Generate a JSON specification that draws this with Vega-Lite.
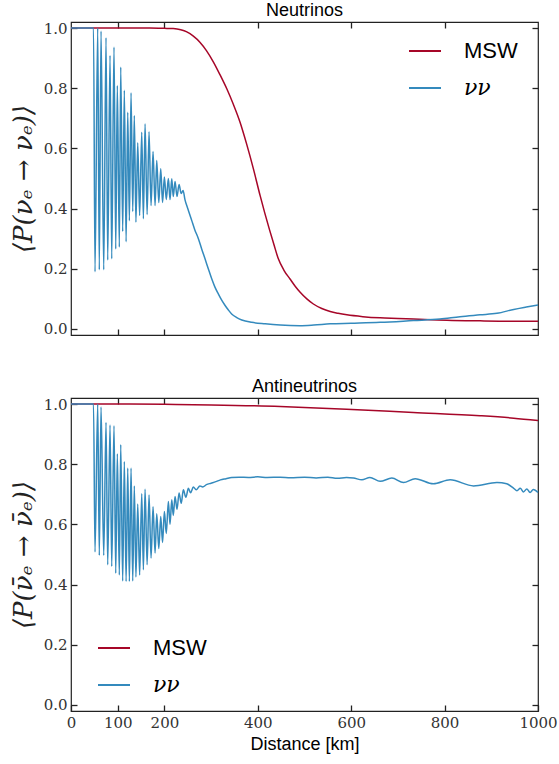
{
"$schema":"https://vega.github.io/schema/vega-lite/v6.json",
"padding":{"left":9,"top":1,"right":10,"bottom":5},
"spacing":39,
"datasets":{
"nu_msw":[{"d":0,"p":1.0,"s":"MSW"},{"d":100,"p":1.0,"s":"MSW"},{"d":169,"p":1.0,"s":"MSW"},{"d":200,"p":0.999,"s":"MSW"},{"d":219,"p":0.998,"s":"MSW"},{"d":235,"p":0.994,"s":"MSW"},{"d":248,"p":0.987,"s":"MSW"},{"d":262,"p":0.973,"s":"MSW"},{"d":276,"p":0.953,"s":"MSW"},{"d":290,"p":0.925,"s":"MSW"},{"d":305,"p":0.887,"s":"MSW"},{"d":319,"p":0.845,"s":"MSW"},{"d":333.6,"p":0.798,"s":"MSW"},{"d":348,"p":0.745,"s":"MSW"},{"d":362,"p":0.687,"s":"MSW"},{"d":376,"p":0.615,"s":"MSW"},{"d":390.6,"p":0.532,"s":"MSW"},{"d":405,"p":0.443,"s":"MSW"},{"d":415,"p":0.385,"s":"MSW"},{"d":425,"p":0.33,"s":"MSW"},{"d":435,"p":0.278,"s":"MSW"},{"d":444,"p":0.233,"s":"MSW"},{"d":456,"p":0.195,"s":"MSW"},{"d":469,"p":0.166,"s":"MSW"},{"d":480,"p":0.142,"s":"MSW"},{"d":490.7,"p":0.122,"s":"MSW"},{"d":505,"p":0.1,"s":"MSW"},{"d":519,"p":0.083,"s":"MSW"},{"d":537,"p":0.068,"s":"MSW"},{"d":555,"p":0.058,"s":"MSW"},{"d":572,"p":0.052,"s":"MSW"},{"d":590.7,"p":0.047,"s":"MSW"},{"d":625,"p":0.041,"s":"MSW"},{"d":662,"p":0.037,"s":"MSW"},{"d":700,"p":0.035,"s":"MSW"},{"d":733.5,"p":0.033,"s":"MSW"},{"d":770,"p":0.031,"s":"MSW"},{"d":805,"p":0.029,"s":"MSW"},{"d":876,"p":0.027,"s":"MSW"},{"d":940,"p":0.026,"s":"MSW"},{"d":1000,"p":0.026,"s":"MSW"}],
"nu_nn":[{"d":0,"p":1.0,"s":"νν"},{"d":46,"p":1.0,"s":"νν"},{"d":48.2,"p":1.0,"s":"νν"},{"d":51.4,"p":0.19,"s":"νν"},{"d":57.2,"p":1.0,"s":"νν"},{"d":60.6,"p":0.197,"s":"νν"},{"d":64.3,"p":0.99,"s":"νν"},{"d":70.1,"p":0.197,"s":"νν"},{"d":75,"p":0.968,"s":"νν"},{"d":78.6,"p":0.229,"s":"νν"},{"d":83.6,"p":0.909,"s":"νν"},{"d":87.2,"p":0.233,"s":"νν"},{"d":92.1,"p":0.937,"s":"νν"},{"d":95.8,"p":0.266,"s":"νν"},{"d":99.2,"p":0.809,"s":"νν"},{"d":103.5,"p":0.272,"s":"νν"},{"d":106.5,"p":0.87,"s":"νν"},{"d":110.7,"p":0.324,"s":"νν"},{"d":114.2,"p":0.793,"s":"νν"},{"d":118,"p":0.29,"s":"νν"},{"d":121.5,"p":0.72,"s":"νν"},{"d":125,"p":0.36,"s":"νν"},{"d":128.6,"p":0.785,"s":"νν"},{"d":132.2,"p":0.39,"s":"νν"},{"d":135.6,"p":0.709,"s":"νν"},{"d":139,"p":0.355,"s":"νν"},{"d":142.9,"p":0.619,"s":"νν"},{"d":147,"p":0.377,"s":"νν"},{"d":151.5,"p":0.654,"s":"νν"},{"d":155,"p":0.366,"s":"νν"},{"d":158.6,"p":0.682,"s":"νν"},{"d":163,"p":0.38,"s":"νν"},{"d":167.1,"p":0.655,"s":"νν"},{"d":171.4,"p":0.41,"s":"νν"},{"d":175.7,"p":0.59,"s":"νν"},{"d":180,"p":0.41,"s":"νν"},{"d":183.6,"p":0.56,"s":"νν"},{"d":188,"p":0.42,"s":"νν"},{"d":192.2,"p":0.532,"s":"νν"},{"d":196,"p":0.42,"s":"νν"},{"d":200,"p":0.505,"s":"νν"},{"d":204,"p":0.43,"s":"νν"},{"d":208.5,"p":0.5,"s":"νν"},{"d":212,"p":0.43,"s":"νν"},{"d":215.8,"p":0.499,"s":"νν"},{"d":219,"p":0.44,"s":"νν"},{"d":222.8,"p":0.49,"s":"νν"},{"d":227,"p":0.44,"s":"νν"},{"d":231.4,"p":0.48,"s":"νν"},{"d":236,"p":0.45,"s":"νν"},{"d":240,"p":0.46,"s":"νν"},{"d":244,"p":0.43,"s":"νν"},{"d":250,"p":0.4,"s":"νν"},{"d":258.6,"p":0.36,"s":"νν"},{"d":265,"p":0.33,"s":"νν"},{"d":272.8,"p":0.3,"s":"νν"},{"d":280,"p":0.265,"s":"νν"},{"d":287,"p":0.233,"s":"νν"},{"d":294,"p":0.2,"s":"νν"},{"d":301.5,"p":0.166,"s":"νν"},{"d":308,"p":0.14,"s":"νν"},{"d":315.7,"p":0.116,"s":"νν"},{"d":323,"p":0.095,"s":"νν"},{"d":330,"p":0.078,"s":"νν"},{"d":337,"p":0.063,"s":"νν"},{"d":344,"p":0.05,"s":"νν"},{"d":355,"p":0.038,"s":"νν"},{"d":365.7,"p":0.03,"s":"νν"},{"d":387,"p":0.022,"s":"νν"},{"d":415.7,"p":0.017,"s":"νν"},{"d":448,"p":0.013,"s":"νν"},{"d":490,"p":0.011,"s":"νν"},{"d":520,"p":0.013,"s":"νν"},{"d":555,"p":0.017,"s":"νν"},{"d":600,"p":0.019,"s":"νν"},{"d":662,"p":0.022,"s":"νν"},{"d":733,"p":0.028,"s":"νν"},{"d":790,"p":0.033,"s":"νν"},{"d":833,"p":0.041,"s":"νν"},{"d":876,"p":0.047,"s":"νν"},{"d":912,"p":0.052,"s":"νν"},{"d":948,"p":0.065,"s":"νν"},{"d":975,"p":0.073,"s":"νν"},{"d":1000,"p":0.08,"s":"νν"}],
"anu_msw":[{"d":0,"p":1.0,"s":"MSW"},{"d":100,"p":1.0,"s":"MSW"},{"d":200,"p":0.999,"s":"MSW"},{"d":300,"p":0.997,"s":"MSW"},{"d":448,"p":0.992,"s":"MSW"},{"d":590,"p":0.983,"s":"MSW"},{"d":733,"p":0.972,"s":"MSW"},{"d":876,"p":0.961,"s":"MSW"},{"d":948,"p":0.953,"s":"MSW"},{"d":1000,"p":0.945,"s":"MSW"}],
"anu_nn":[{"d":0,"p":1.0,"s":"νν"},{"d":46,"p":1.0,"s":"νν"},{"d":48.2,"p":1.0,"s":"νν"},{"d":51.4,"p":0.508,"s":"νν"},{"d":57.2,"p":1.0,"s":"νν"},{"d":60.6,"p":0.497,"s":"νν"},{"d":64.3,"p":0.99,"s":"νν"},{"d":70.1,"p":0.497,"s":"νν"},{"d":75,"p":0.939,"s":"νν"},{"d":78.6,"p":0.466,"s":"νν"},{"d":83.6,"p":0.93,"s":"νν"},{"d":87.2,"p":0.46,"s":"νν"},{"d":92.1,"p":0.928,"s":"νν"},{"d":95.8,"p":0.438,"s":"νν"},{"d":99.2,"p":0.835,"s":"νν"},{"d":103.5,"p":0.432,"s":"νν"},{"d":106.5,"p":0.865,"s":"νν"},{"d":110.7,"p":0.412,"s":"νν"},{"d":114.2,"p":0.809,"s":"νν"},{"d":118,"p":0.41,"s":"νν"},{"d":121.5,"p":0.787,"s":"νν"},{"d":125,"p":0.41,"s":"νν"},{"d":128.6,"p":0.787,"s":"νν"},{"d":132.2,"p":0.412,"s":"νν"},{"d":135.6,"p":0.728,"s":"νν"},{"d":139,"p":0.425,"s":"νν"},{"d":142.9,"p":0.668,"s":"νν"},{"d":147,"p":0.432,"s":"νν"},{"d":151.5,"p":0.702,"s":"νν"},{"d":155,"p":0.449,"s":"νν"},{"d":158.6,"p":0.717,"s":"νν"},{"d":163,"p":0.466,"s":"νν"},{"d":167.1,"p":0.698,"s":"νν"},{"d":171.4,"p":0.488,"s":"νν"},{"d":175.7,"p":0.659,"s":"νν"},{"d":180,"p":0.505,"s":"νν"},{"d":183.6,"p":0.635,"s":"νν"},{"d":188,"p":0.52,"s":"νν"},{"d":192.2,"p":0.626,"s":"νν"},{"d":196,"p":0.54,"s":"νν"},{"d":200,"p":0.643,"s":"νν"},{"d":204,"p":0.57,"s":"νν"},{"d":208.5,"p":0.676,"s":"νν"},{"d":212,"p":0.6,"s":"νν"},{"d":215.8,"p":0.682,"s":"νν"},{"d":219,"p":0.63,"s":"νν"},{"d":222.8,"p":0.693,"s":"νν"},{"d":227,"p":0.65,"s":"νν"},{"d":231.4,"p":0.704,"s":"νν"},{"d":236,"p":0.67,"s":"νν"},{"d":240.6,"p":0.715,"s":"νν"},{"d":246,"p":0.69,"s":"νν"},{"d":251.3,"p":0.72,"s":"νν"},{"d":256,"p":0.705,"s":"νν"},{"d":262,"p":0.724,"s":"νν"},{"d":268,"p":0.715,"s":"νν"},{"d":276,"p":0.728,"s":"νν"},{"d":282,"p":0.724,"s":"νν"},{"d":290,"p":0.732,"s":"νν"},{"d":300,"p":0.737,"s":"νν"},{"d":310,"p":0.742,"s":"νν"},{"d":320,"p":0.748,"s":"νν"},{"d":332,"p":0.752,"s":"νν"},{"d":344,"p":0.756,"s":"νν"},{"d":360,"p":0.757,"s":"νν"},{"d":380,"p":0.756,"s":"νν"},{"d":400,"p":0.758,"s":"νν"},{"d":420,"p":0.756,"s":"νν"},{"d":448,"p":0.757,"s":"νν"},{"d":470,"p":0.755,"s":"νν"},{"d":500,"p":0.757,"s":"νν"},{"d":525,"p":0.754,"s":"νν"},{"d":550,"p":0.757,"s":"νν"},{"d":570,"p":0.753,"s":"νν"},{"d":590,"p":0.756,"s":"νν"},{"d":605,"p":0.754,"s":"νν"},{"d":623,"p":0.748,"s":"νν"},{"d":640,"p":0.756,"s":"νν"},{"d":662,"p":0.743,"s":"νν"},{"d":687,"p":0.754,"s":"νν"},{"d":712,"p":0.739,"s":"νν"},{"d":737,"p":0.752,"s":"νν"},{"d":776,"p":0.735,"s":"νν"},{"d":812,"p":0.748,"s":"νν"},{"d":862,"p":0.728,"s":"νν"},{"d":912,"p":0.739,"s":"νν"},{"d":933,"p":0.735,"s":"νν"},{"d":948,"p":0.72,"s":"νν"},{"d":955,"p":0.712,"s":"νν"},{"d":962,"p":0.72,"s":"νν"},{"d":969,"p":0.708,"s":"νν"},{"d":976,"p":0.718,"s":"νν"},{"d":983,"p":0.706,"s":"νν"},{"d":990,"p":0.716,"s":"νν"},{"d":1000,"p":0.706,"s":"νν"}]
},
"vconcat":[
{
"title":{"text":"Neutrinos"},
"width":467,"height":313,
"layer":[
{"data":{"name":"nu_msw"},"mark":{"type":"line","strokeWidth":1.5,"interpolate":"monotone"},
"encoding":{
"x":{"field":"d","type":"quantitative","scale":{"domain":[0,1000],"nice":false,"zero":false},"axis":{"orient":"bottom","labels":false,"title":null,"values":[100,200,400,600,800]}},
"y":{"field":"p","type":"quantitative","scale":{"domain":[-0.02,1.02],"nice":false,"zero":false},"axis":{"orient":"left","values":[0,0.2,0.4,0.6,0.8,1.0],"format":".1f","title":"⟨P(νₑ → νₑ)⟩"}},
"color":{"field":"s","type":"nominal","scale":{"domain":["MSW","νν"],"range":["#A60628","#348ABD"]},"legend":{"legendX":337,"legendY":12}}}},
{"data":{"name":"nu_nn"},"mark":{"type":"line","strokeWidth":1.5,"interpolate":"monotone"},
"encoding":{
"x":{"field":"d","type":"quantitative","scale":{"domain":[0,1000],"nice":false,"zero":false},"axis":{"orient":"top","labels":false,"title":null,"values":[100,200,400,600,800]}},
"y":{"field":"p","type":"quantitative","scale":{"domain":[-0.02,1.02],"nice":false,"zero":false},"axis":{"orient":"right","labels":false,"title":null,"values":[0,0.2,0.4,0.6,0.8,1.0]}},
"color":{"field":"s","type":"nominal","scale":{"domain":["MSW","νν"],"range":["#A60628","#348ABD"]}}}}
]
},
{
"title":{"text":"Antineutrinos"},
"width":467,"height":313,
"layer":[
{"data":{"name":"anu_msw"},"mark":{"type":"line","strokeWidth":1.5,"interpolate":"monotone"},
"encoding":{
"x":{"field":"d","type":"quantitative","scale":{"domain":[0,1000],"nice":false,"zero":false},"axis":{"orient":"bottom","values":[0,100,200,400,600,800,1000],"format":"d","title":"Distance [km]"}},
"y":{"field":"p","type":"quantitative","scale":{"domain":[-0.02,1.02],"nice":false,"zero":false},"axis":{"orient":"left","values":[0,0.2,0.4,0.6,0.8,1.0],"format":".1f","title":"⟨P(ν̄ₑ → ν̄ₑ)⟩"}},
"color":{"field":"s","type":"nominal","scale":{"domain":["MSW","νν"],"range":["#A60628","#348ABD"]},"legend":{"legendX":26,"legendY":233}}}},
{"data":{"name":"anu_nn"},"mark":{"type":"line","strokeWidth":1.5,"interpolate":"monotone"},
"encoding":{
"x":{"field":"d","type":"quantitative","scale":{"domain":[0,1000],"nice":false,"zero":false},"axis":{"orient":"top","labels":false,"title":null,"values":[100,200,400,600,800]}},
"y":{"field":"p","type":"quantitative","scale":{"domain":[-0.02,1.02],"nice":false,"zero":false},"axis":{"orient":"right","labels":false,"title":null,"values":[0,0.2,0.4,0.6,0.8,1.0]}},
"color":{"field":"s","type":"nominal","scale":{"domain":["MSW","νν"],"range":["#A60628","#348ABD"]}}}}
]
}
],
"resolve":{"scale":{"color":"independent"},"legend":{"color":"independent"}},
"config":{
"view":{"stroke":"#222","strokeWidth":1.2},
"axis":{"grid":false,"domain":false,"offset":-6,"tickSize":6,"tickColor":"#222","tickWidth":1.3,"labelFont":"DejaVu Serif","labelFontSize":15,"labelColor":"#333","labelPadding":4,"labelFlush":false,"labelOverlap":false,"labelBound":false,"titleFont":"DejaVu Serif","titleFontStyle":"italic","titleFontWeight":"normal","titleFontSize":26,"titleColor":"#222","titlePadding":7},
"axisBottom":{"titleFont":"Liberation Sans","titleFontStyle":"normal","titleFontSize":18,"titleColor":"black","titlePadding":5},
"title":{"font":"Liberation Sans","fontSize":18,"fontWeight":"normal","color":"black","offset":1},
"legend":{"orient":"none","title":null,"symbolType":"stroke","symbolSize":1024,"symbolStrokeWidth":2,"labelFontSize":22,"labelFont":{"expr":"datum.label == 'MSW' ? 'Liberation Sans' : 'DejaVu Serif'"},"labelFontStyle":{"expr":"datum.label == 'MSW' ? 'normal' : 'italic'"},"labelColor":"black","labelOffset":22,"rowPadding":9,"padding":0}
}
}
